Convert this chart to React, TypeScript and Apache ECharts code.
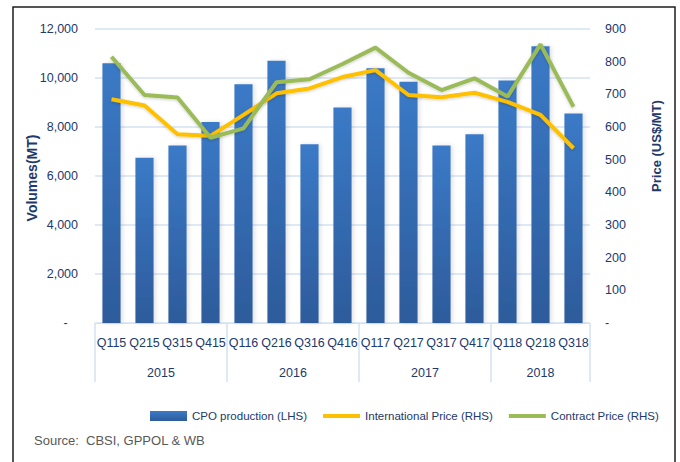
import React, { useEffect, useRef } from "react";
import * as echarts from "echarts";

const categories = ["Q115", "Q215", "Q315", "Q415", "Q116", "Q216", "Q316", "Q416", "Q117", "Q217", "Q317", "Q417", "Q118", "Q218", "Q318"];
const years = ["2015", "2016", "2017", "2018"];
const quartersPerYear = [4, 4, 4, 3];
const cpoProduction = [10600, 6750, 7250, 8200, 9750, 10700, 7300, 8800, 10400, 9850, 7250, 7700, 9900, 11300, 8550];
const internationalPrice = [685, 666, 578, 573, 637, 703, 718, 753, 774, 698, 691, 705, 677, 637, 535];
const contractPrice = [815, 698, 690, 567, 596, 737, 746, 793, 843, 766, 713, 749, 693, 853, 662];
const volumeTicks = { min: 0, max: 12000, interval: 2000 };
const priceTicks = { min: 0, max: 900, interval: 100 };

const FONT = "'Liberation Sans', Arial, sans-serif";
const TEXT = "#22396b";
const GRIDC = "#d5e2f3";
const FS = 12.5;

export default function App() {
  const ref = useRef<HTMLDivElement>(null);
  useEffect(() => {
    if (!ref.current) return;
    const chart = echarts.init(ref.current, undefined, { renderer: "svg" });
    const boundaries: number[] = [0];
    quartersPerYear.forEach((n) => boundaries.push(boundaries[boundaries.length - 1] + n));
    const centers = quartersPerYear.map((n, i) => boundaries[i] + n / 2);
    const fmt = (v: number) => (v === 0 ? "-   " : v.toLocaleString("en-US"));
    const hiddenSymbol = { color: "rgba(0,0,0,0)", borderWidth: 0, opacity: 0 };
    chart.setOption({
      animation: false,
      backgroundColor: "#ffffff",
      textStyle: { fontFamily: FONT },
      grid: { left: 95, right: 90, top: 29, bottom: 139, containLabel: false },
      legend: {
        left: 150,
        top: 410,
        width: 600,
        padding: 0,
        itemWidth: 37,
        itemHeight: 10,
        itemGap: 14,
        textStyle: { color: TEXT, fontSize: 11.5, fontFamily: FONT },
        data: [
          { name: "CPO production (LHS)", icon: "rect" },
          { name: "International Price (RHS)", itemStyle: hiddenSymbol, lineStyle: { width: 4, color: "#ffc000" } },
          { name: "Contract Price (RHS)", itemStyle: hiddenSymbol, lineStyle: { width: 4, color: "#9bbb59" } },
        ],
      },
      xAxis: [
        {
          type: "category",
          data: categories,
          axisLine: { show: true, lineStyle: { color: GRIDC, width: 1 } },
          axisTick: { show: false },
          axisLabel: { color: TEXT, fontSize: FS, margin: 13, interval: 0, fontFamily: FONT },
        },
        {
          type: "value",
          min: 0,
          max: categories.length,
          position: "bottom",
          axisLine: { show: false },
          splitLine: { show: false },
          axisTick: { show: true, customValues: boundaries, length: 59, lineStyle: { color: GRIDC, width: 1.5 } },
          axisLabel: {
            show: true,
            customValues: centers,
            color: TEXT,
            fontSize: FS,
            margin: 43,
            fontFamily: FONT,
            formatter: (v: number) => {
              const i = centers.findIndex((c) => Math.abs(c - v) < 1e-6);
              return i >= 0 ? years[i] : "";
            },
          },
        },
      ],
      yAxis: [
        {
          type: "value",
          ...volumeTicks,
          axisLine: { show: false },
          axisTick: { show: false },
          splitLine: { show: true, lineStyle: { color: GRIDC, width: 1.5 } },
          axisLabel: { color: TEXT, fontSize: FS, margin: 17, formatter: fmt, fontFamily: FONT },
        },
        {
          type: "value",
          ...priceTicks,
          position: "right",
          axisLine: { show: false },
          axisTick: { show: false },
          splitLine: { show: false },
          axisLabel: { color: TEXT, fontSize: FS, margin: 15, formatter: (v: number) => (v === 0 ? "-" : String(v)), fontFamily: FONT },
        },
      ],
      series: [
        {
          name: "CPO production (LHS)",
          type: "bar",
          data: cpoProduction,
          barWidth: "55%",
          itemStyle: {
            color: new echarts.graphic.LinearGradient(0, 0, 0, 1, [
              { offset: 0, color: "#3b7ac7" },
              { offset: 1, color: "#2d5b9b" },
            ]),
            shadowColor: "rgba(0,0,0,0.12)",
            shadowBlur: 4,
            shadowOffsetX: 2,
          },
        },
        {
          name: "International Price (RHS)",
          type: "line",
          yAxisIndex: 1,
          data: internationalPrice,
          symbol: "none",
          lineStyle: { color: "#ffc000", width: 4, shadowColor: "rgba(0,0,0,0.2)", shadowBlur: 3, shadowOffsetY: 1 },
          itemStyle: { color: "#ffc000" },
        },
        {
          name: "Contract Price (RHS)",
          type: "line",
          yAxisIndex: 1,
          data: contractPrice,
          symbol: "none",
          lineStyle: { color: "#9bbb59", width: 4, shadowColor: "rgba(0,0,0,0.2)", shadowBlur: 3, shadowOffsetY: 1 },
          itemStyle: { color: "#9bbb59" },
        },
      ],
      graphic: [
        {
          type: "rect",
          shape: { x: 13, y: 7, width: 662, height: 470 },
          style: { fill: "none", stroke: "#1e1e1e", lineWidth: 1.5 },
          silent: true,
        },
        {
          type: "text",
          x: 32,
          y: 178,
          rotation: Math.PI / 2,
          style: { text: "Volumes(MT)", fill: TEXT, font: "bold 14px 'Liberation Sans', Arial, sans-serif", textAlign: "center", textVerticalAlign: "middle" },
        },
        {
          type: "text",
          x: 656,
          y: 146,
          rotation: Math.PI / 2,
          style: { text: "Price (US$/MT)", fill: TEXT, font: "bold 13px 'Liberation Sans', Arial, sans-serif", textAlign: "center", textVerticalAlign: "middle" },
        },
        {
          type: "text",
          x: 34,
          y: 440,
          style: { text: "Source:  CBSI, GPPOL & WB", fill: "#595959", font: "13px " + FONT, textAlign: "left", textVerticalAlign: "middle" },
        },
      ],
    });
    return () => chart.dispose();
  }, []);
  return <div ref={ref} style={{ position: "fixed", left: 0, top: 0, width: 680, height: 462 }} />;
}
